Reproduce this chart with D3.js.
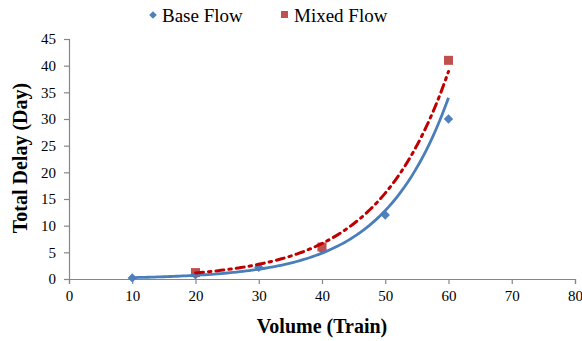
<!DOCTYPE html>
<html><head><meta charset="utf-8">
<script src="https://cdn.jsdelivr.net/npm/d3@7"></script>
<style>body{margin:0;background:#fff}svg{display:block}text{font-family:"Liberation Serif","Times New Roman",serif}</style>
</head><body>
<svg id="c" width="582" height="341"></svg>
<script>
const baseX = [10, 20, 30, 40, 50, 60];
const baseY = [0.2, 0.8, 2.2, 5.5, 12, 30];
const mixedX = [20, 40, 60];
const mixedY = [1.2, 6, 41];
const xTicks = [0, 10, 20, 30, 40, 50, 60, 70, 80];
const yTicks = [0, 5, 10, 15, 20, 25, 30, 35, 40, 45];
const seriesNames = ["Base Flow", "Mixed Flow"];

const svg = d3.select("#c");
const L = 69, R = 575, T = 39, B = 279;
const x = d3.scaleLinear().domain([0, 80]).range([L, R]);
const y = d3.scaleLinear().domain([0, 45]).range([B, T]);
const axisCol = "#868686";

const xa = svg.append("g").attr("transform", `translate(0,${B})`)
  .call(d3.axisBottom(x).tickValues(xTicks).tickSize(5).tickPadding(6));
const ya = svg.append("g").attr("transform", `translate(${L},0)`)
  .call(d3.axisLeft(y).tickValues(yTicks).tickSize(5).tickPadding(8));
[xa, ya].forEach(g => {
  g.select(".domain").attr("stroke", axisCol).attr("stroke-width", 1.2);
  g.selectAll(".tick line").attr("stroke", axisCol).attr("stroke-width", 1.2);
  g.selectAll(".tick text").attr("fill", "#000").style("font-size", "15px")
    .style("font-family", '"Liberation Serif",serif');
});

function expFit(xs, ys) {
  const ly = ys.map(Math.log);
  const mx = d3.mean(xs), my = d3.mean(ly);
  let sxy = 0, sxx = 0;
  xs.forEach((v, i) => { sxy += (v - mx) * (ly[i] - my); sxx += (v - mx) ** 2; });
  const b = sxy / sxx, a = Math.exp(my - b * mx);
  return t => a * Math.exp(b * t);
}
function trend(xs, ys) {
  const f = expFit(xs, ys);
  const x0 = d3.min(xs), x1 = d3.max(xs);
  return d3.range(0, 101).map(i => { const t = x0 + (x1 - x0) * i / 100; return [t, f(t)]; });
}
const line = d3.line().x(d => x(d[0])).y(d => y(d[1]));

const bpts = baseX.map((v, i) => [v, baseY[i]]);
const mpts = mixedX.map((v, i) => [v, mixedY[i]]);
svg.append("g").selectAll("rect").data(bpts).join("rect")
  .attr("x", -3.3).attr("y", -3.3).attr("width", 6.6).attr("height", 6.6)
  .attr("transform", d => `translate(${x(d[0])},${y(d[1])}) rotate(45)`)
  .attr("fill", "#4F81BD");
svg.append("g").selectAll("rect").data(mpts).join("rect")
  .attr("x", d => x(d[0]) - 4.5).attr("y", d => y(d[1]) - 4.5)
  .attr("width", 9).attr("height", 9).attr("fill", "#C0504D");

svg.append("path").datum(trend(baseX, baseY)).attr("d", line)
  .attr("fill", "none").attr("stroke", "#4A7EBB").attr("stroke-width", 2.8);
svg.append("path").datum(trend(mixedX, mixedY)).attr("d", line)
  .attr("fill", "none").attr("stroke", "#C00000").attr("stroke-width", 3)
  .attr("stroke-dasharray", "8,5,2.5,5").attr("stroke-linecap", "round");

svg.append("text").attr("x", 322).attr("y", 333).attr("text-anchor", "middle")
  .style("font-size", "20px").style("font-weight", "bold").text("Volume (Train)");
svg.append("text").attr("transform", `translate(27,${(T + B) / 2 - 1}) rotate(-90)`)
  .attr("text-anchor", "middle").style("font-size", "20px").style("font-weight", "bold")
  .text("Total Delay (Day)");

const lg = svg.append("g");
lg.append("rect").attr("x", -2.7).attr("y", -2.7).attr("width", 5.4).attr("height", 5.4)
  .attr("transform", "translate(153,15) rotate(45)").attr("fill", "#4F81BD");
lg.append("text").attr("x", 162).attr("y", 22).style("font-size", "19px").text(seriesNames[0]);
lg.append("rect").attr("x", 281).attr("y", 11).attr("width", 7).attr("height", 7).attr("fill", "#C0504D");
lg.append("text").attr("x", 294).attr("y", 22).style("font-size", "19px").text(seriesNames[1]);
</script>
</body></html>
